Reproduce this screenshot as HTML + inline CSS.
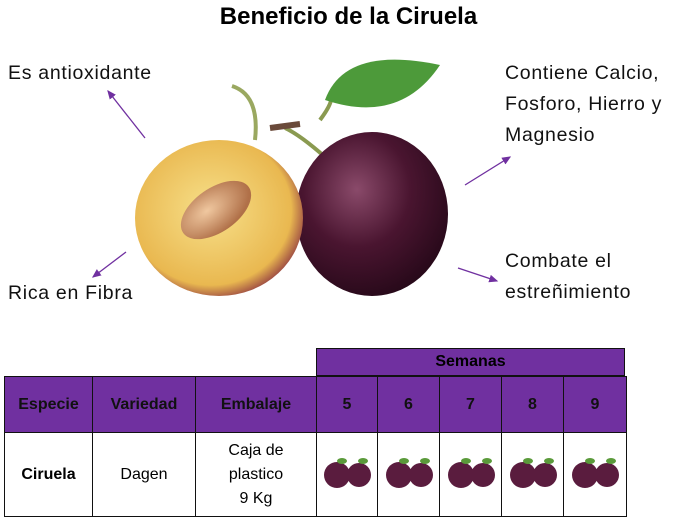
<!DOCTYPE html><html><head><meta charset="utf-8"><style>
body{margin:0;width:675px;height:522px;background:#fff;position:relative;overflow:hidden;font-family:"Liberation Sans",sans-serif}
.t{position:absolute;font-size:19.5px;letter-spacing:0.7px;color:#111;line-height:31px}
table{position:absolute;border-collapse:collapse;left:4px;top:376px}
td{border:1.5px solid #111;text-align:center;font-size:16px;padding:0}
.h td{background:#7030a0;font-weight:bold;height:55px;color:#111}
</style></head><body>
<div style="position:absolute;left:0;width:697px;top:3px;text-align:center;font-weight:bold;font-size:24px">Beneficio de la Ciruela</div>
<div class="t" style="left:8px;top:58px">Es antioxidante</div>
<div class="t" style="left:505px;top:58px">Contiene Calcio,<br>Fosforo, Hierro y<br>Magnesio</div>
<div class="t" style="left:8px;top:278px">Rica en Fibra</div>
<div class="t" style="left:505px;top:246px">Combate el<br>estreñimiento</div>
<svg width="675" height="522" style="position:absolute;left:0;top:0">
<defs><marker id="a" markerWidth="8" markerHeight="8" refX="6" refY="4" orient="auto"><path d="M0,1 L7,4 L0,7z" fill="#7030a0"/></marker>
<radialGradient id="y" cx="0.45" cy="0.45" r="0.6"><stop offset="0" stop-color="#f7e08a"/><stop offset="0.8" stop-color="#e9b850"/><stop offset="1" stop-color="#8a3040"/></radialGradient>
<radialGradient id="p" cx="0.4" cy="0.35" r="0.7"><stop offset="0" stop-color="#8a4a6a"/><stop offset="0.5" stop-color="#4a1530"/><stop offset="1" stop-color="#250818"/></radialGradient>
<radialGradient id="s" cx="0.4" cy="0.4" r="0.6"><stop offset="0" stop-color="#f0c8a0"/><stop offset="1" stop-color="#b07048"/></radialGradient></defs>
<g stroke="#7030a0" stroke-width="1.3" marker-end="url(#a)">
<line x1="145" y1="138" x2="108" y2="91"/><line x1="465" y1="185" x2="510" y2="157"/>
<line x1="126" y1="252" x2="93" y2="277"/><line x1="458" y1="268" x2="497" y2="281"/></g>
<path d="M255,140 Q260,95 232,86" stroke="#9aa860" stroke-width="4" fill="none"/>
<path d="M325,157 Q300,135 285,128 M320,120 Q335,100 330,95" stroke="#8a9a50" stroke-width="4" fill="none"/>
<path d="M270,128 L300,124" stroke="#6a4a3a" stroke-width="6"/>
<path d="M325,100 Q345,45 440,65 Q400,125 325,100z" fill="#4d9a3a"/>
<ellipse cx="372" cy="214" rx="76" ry="82" fill="url(#p)"/>
<ellipse cx="219" cy="218" rx="84" ry="78" fill="url(#y)"/>
<ellipse cx="216" cy="210" rx="40" ry="22" transform="rotate(-35 216 210)" fill="url(#s)"/>
</svg>
<div style="position:absolute;left:316px;top:348px;width:309px;height:28px;background:#7030a0;border:1.5px solid #111;box-sizing:border-box;text-align:center;font-weight:bold;font-size:16px;line-height:26px">Semanas</div>
<table><tr class="h"><td style="width:87px">Especie</td><td style="width:102px">Variedad</td><td style="width:120px">Embalaje</td><td style="width:60px">5</td><td style="width:61px">6</td><td style="width:61px">7</td><td style="width:61px">8</td><td style="width:62px">9</td></tr>
<tr style="height:84px"><td><b>Ciruela</b></td><td>Dagen</td><td style="line-height:24px">Caja de<br>plastico<br>9 Kg</td>
<td>🟣</td><td>🟣</td><td>🟣</td><td>🟣</td><td>🟣</td></tr></table>
<svg width="675" height="522" style="position:absolute;left:0;top:0">
<g id="pl"><circle cx="337" cy="475" r="13" fill="#5a1c3e"/><circle cx="359" cy="475" r="12" fill="#5a1c3e"/><ellipse cx="342" cy="461" rx="5" ry="3" fill="#5a9a3a"/><ellipse cx="363" cy="461" rx="5" ry="3" fill="#5a9a3a"/></g>
<use href="#pl" x="62"/><use href="#pl" x="124"/><use href="#pl" x="186"/><use href="#pl" x="248"/>
</svg>
<style>td:nth-child(n+4){color:transparent}.h td{color:#111!important}</style>
</body></html>
